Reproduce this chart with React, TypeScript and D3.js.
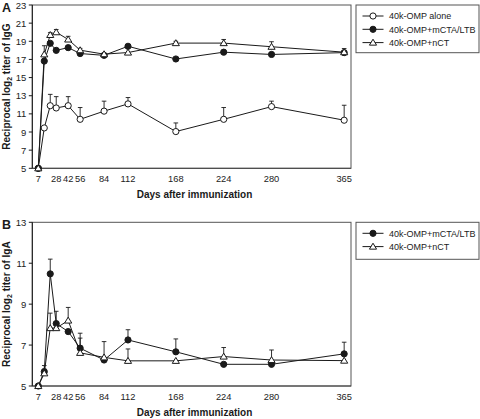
import React from "react";
import * as d3 from "d3";

const days = [7, 14, 21, 28, 42, 56, 84, 112, 168, 224, 280, 365];
const xTickLabels = [7, 28, 42, 56, 84, 112, 168, 224, 280, 365];

const igGTicks = [5, 7, 9, 11, 13, 15, 17, 19, 21, 23];
const igATicks = [5, 7, 9, 11, 13];

// Panel A (IgG)
const igGAlone = [5, 9.45, 11.9, 11.65, 11.9, 10.4, 11.3, 12.1, 9.05, 10.4, 11.8, 10.3];
const igGAloneErr = [0, 0, 1.25, 1.25, 1.0, 1.3, 1.1, 0.7, 0.95, 1.3, 0.6, 1.65];
const igGMcta = [5, 16.82, 18.78, 18.0, 18.3, 17.65, 17.45, 18.45, 17.05, 17.8, 17.55, 17.75];
const igGMctaErr = [0, 0, 0, 0, 0, 0, 0, 0, 0, 0, 0, 0];
const igGNct = [5, 17.56, 19.7, 20.0, 19.2, 18.02, 17.58, 17.76, 18.8, 18.8, 18.4, 17.8];
const igGNctErr = [0, 0.95, 0.25, 0.3, 0.35, 0.2, 0.1, 0, 0.2, 0.4, 0.55, 0.4];

// Panel B (IgA)
const igAMcta = [5, 5.7, 10.48, 8.05, 7.66, 6.85, 6.27, 7.25, 6.67, 6.06, 6.06, 6.57];
const igAMctaErr = [0, 0.3, 0.72, 0.6, 0, 0.73, 0.9, 0.5, 0.63, 0, 0, 0.57];
const igANct = [5, 5.62, 7.83, 7.83, 8.2, 6.62, 6.4, 6.23, 6.23, 6.44, 6.27, 6.24];
const igANctErr = [0, 0.2, 0.73, 0, 0.64, 0.72, 0, 0.58, 0, 0.44, 0.49, 0];

type Marker = "open" | "filled" | "triangle";
type Series = { name: string; values: number[]; err: number[]; marker: Marker };

const seriesA: Series[] = [
  { name: "40k-OMP alone", values: igGAlone, err: igGAloneErr, marker: "open" },
  { name: "40k-OMP+mCTA/LTB", values: igGMcta, err: igGMctaErr, marker: "filled" },
  { name: "40k-OMP+nCT", values: igGNct, err: igGNctErr, marker: "triangle" },
];
const seriesB: Series[] = [
  { name: "40k-OMP+mCTA/LTB", values: igAMcta, err: igAMctaErr, marker: "filled" },
  { name: "40k-OMP+nCT", values: igANct, err: igANctErr, marker: "triangle" },
];

const FONT = "'Liberation Sans', Arial, Helvetica, sans-serif";
const INK = "#1a1a1a";

function MarkerShape({ type, x, y }: { type: Marker; x: number; y: number }) {
  if (type === "triangle") {
    const s = 3.4;
    const p = `M${x},${y - s}L${x + s * 1.05},${y + s * 0.75}L${x - s * 1.05},${y + s * 0.75}Z`;
    return <path d={p} fill="#fff" stroke={INK} strokeWidth={1} />;
  }
  return (
    <circle cx={x} cy={y} r={3.1} fill={type === "filled" ? INK : "#fff"} stroke={INK} strokeWidth={1} />
  );
}

function Panel({
  top, bottom, domainY, ticks, series, label, yLabel, isotype, legendTop, legendBottom,
}: {
  top: number; bottom: number; domainY: [number, number]; ticks: number[]; series: Series[];
  label: string; yLabel: string; isotype: string; legendTop: number; legendBottom: number;
}) {
  const left = 32.3;
  const right = 351;
  const x = d3.scaleLinear().domain([0, 373]).range([left, right]);
  const y = d3.scaleLinear().domain(domainY).range([bottom, top]);
  const line = d3
    .line<[number, number]>()
    .x((d) => x(d[0]))
    .y((d) => y(d[1]));
  const midY = (top + bottom) / 2;
  const legX = 356;
  const legW = 123;
  return (
    <g fontFamily={FONT}>
      <text x={2} y={top + 7} fontSize={12.5} fontWeight="bold" fill={INK}>{label}</text>
      {/* frame */}
      <rect x={left} y={top} width={right - left} height={bottom - top} fill="none" stroke="#555" strokeWidth={1} />
      <line x1={left} x2={left} y1={top} y2={bottom} stroke={INK} />
      <line x1={left} x2={right} y1={bottom} y2={bottom} stroke="#444" />
      {ticks.map((t) => (
        <g key={t}>
          <line x1={left - 3.5} x2={left} y1={y(t)} y2={y(t)} stroke={INK} />
          <text x={left - 6} y={y(t) + 3.5} fontSize={9.5} textAnchor="end" fill="#222">{t}</text>
        </g>
      ))}
      {xTickLabels.map((t) => (
        <text key={t} x={x(t)} y={bottom + 13.5} fontSize={9.3} textAnchor="middle" fill="#222">{t}</text>
      ))}
      <text x={194.5} y={bottom + 29.5} fontSize={10} fontWeight="bold" textAnchor="middle" fill={INK}>
        Days after immunization
      </text>
      <text transform={`translate(9.5,${midY}) rotate(-90)`} fontSize={10} fontWeight="bold" textAnchor="middle" fill={INK}>
        {yLabel}
        <tspan fontSize={7} dy={2}>2</tspan>
        <tspan dy={-2}>{` titer of ${isotype}`}</tspan>
      </text>
      {series.map((s) => (
        <g key={s.name}>
          <path d={line(days.map((d, i) => [d, s.values[i]]))!} fill="none" stroke={INK} strokeWidth={1} />
          {days.map((d, i) =>
            s.err[i] > 0 ? (
              <g key={d}>
                <line x1={x(d)} x2={x(d)} y1={y(s.values[i])} y2={y(s.values[i] + s.err[i])} stroke={INK} strokeWidth={0.9} />
                <line x1={x(d) - 2.3} x2={x(d) + 2.3} y1={y(s.values[i] + s.err[i])} y2={y(s.values[i] + s.err[i])} stroke={INK} strokeWidth={0.9} />
              </g>
            ) : null
          )}
        </g>
      ))}
      {series.map((s) => (
        <g key={s.name + "m"}>
          {days.map((d, i) => (
            <MarkerShape key={d} type={s.marker} x={x(d)} y={y(s.values[i])} />
          ))}
        </g>
      ))}
      {/* legend */}
      <rect x={legX} y={legendTop} width={legW} height={legendBottom - legendTop} fill="#fff" stroke="#555" strokeWidth={1} />
      {series.map((s, i) => {
        const ry = legendTop + 11 + i * 13.3;
        return (
          <g key={s.name + "l"}>
            <line x1={362.5} x2={383.5} y1={ry} y2={ry} stroke={INK} />
            <MarkerShape type={s.marker} x={373} y={ry} />
            <text x={389} y={ry + 3.2} fontSize={9} fill="#222">{s.name}</text>
          </g>
        );
      })}
    </g>
  );
}

export default function App() {
  return (
    <svg width={480} height={419} style={{ position: "absolute", left: 0, top: 0, background: "#fff" }}>
      <Panel top={5} bottom={168.3} domainY={[5, 23]} ticks={igGTicks} series={seriesA} label="A"
        yLabel="Reciprocal log" isotype="IgG" legendTop={5} legendBottom={52.7} />
      <Panel top={222.3} bottom={386} domainY={[5, 13]} ticks={igATicks} series={seriesB} label="B"
        yLabel="Reciprocal log" isotype="IgA" legendTop={222.3} legendBottom={259.3} />
    </svg>
  );
}
